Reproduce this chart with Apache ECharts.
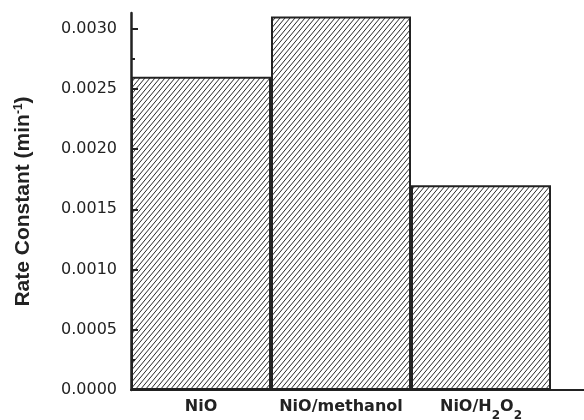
<!DOCTYPE html>
<html>
<head>
<meta charset="utf-8">
<script src="https://cdn.jsdelivr.net/npm/echarts@6/dist/echarts.min.js"></script>
<style>html,body{margin:0;padding:0;background:#fff}#c{width:584px;height:420px}</style>
</head>
<body>
<div id="c"></div>
<script>
var categories = ['{m|NiO}', '{m|NiO/methanol}', '{m|NiO/H}{sub|2}{m|O}{sub|2}'];
var rateConstants = [0.0026, 0.0031, 0.0017];
var majorTicks = [0, 0.0005, 0.0010, 0.0015, 0.0020, 0.0025, 0.0030];
var minorTicks = [0.00025, 0.00075, 0.00125, 0.00175, 0.00225, 0.00275];
var yMax = 0.00313;

function hatch() {
  var w = 5, h = 6;
  var cv = document.createElement('canvas');
  cv.width = w; cv.height = h;
  var ctx = cv.getContext('2d');
  ctx.fillStyle = '#fff';
  ctx.fillRect(0, 0, w, h);
  ctx.strokeStyle = '#2a2a2a';
  ctx.lineWidth = 1;
  [[0, 0], [-w, 0], [w, 0]].forEach(function (o) {
    ctx.beginPath();
    ctx.moveTo(o[0], h);
    ctx.lineTo(o[0] + w, 0);
    ctx.stroke();
  });
  return cv;
}

var chart = echarts.init(document.getElementById('c'), null, {renderer: 'canvas'});
var ink = '#222';
chart.setOption({
  animation: false,
  grid: {left: 131, top: 13, bottom: 30, width: 560, outerBoundsMode: 'none', containLabel: false},
  xAxis: {
    type: 'category',
    data: categories.concat(['']),
    z: 5,
    axisLine: {lineStyle: {color: ink, width: 2}},
    axisTick: {alignWithLabel: true, inside: true, length: 6, interval: 0, lineStyle: {color: ink, width: 2}},
    axisLabel: {
      interval: 0,
      margin: 9,
      color: ink,
      fontFamily: 'DejaVu Sans',
      fontWeight: 'bold',
      fontSize: 16,
      rich: {
        m: {fontFamily: 'DejaVu Sans', fontWeight: 'bold', fontSize: 16, lineHeight: 16, verticalAlign: 'top', color: ink},
        sub: {fontFamily: 'DejaVu Sans', fontWeight: 'bold', fontSize: 12, lineHeight: 23, verticalAlign: 'bottom', color: ink}
      }
    }
  },
  yAxis: [{
    type: 'value',
    min: 0,
    max: yMax,
    interval: 0.0005,
    z: 5,
    name: 'Rate Constant (min{sup|-1})',
    nameLocation: 'middle',
    nameRotate: 90,
    nameGap: 97,
    nameTextStyle: {
      color: ink, fontFamily: 'Liberation Sans', fontWeight: 'bold', fontSize: 21,
      rich: {sup: {fontFamily: 'Liberation Sans', fontWeight: 'bold', fontSize: 12, verticalAlign: 'top', padding: [0, 0, 8, 0], color: ink}}
    },
    splitLine: {show: false},
    axisLine: {show: true, lineStyle: {color: ink, width: 2.5}},
    axisTick: {show: true, inside: true, length: 7, customValues: majorTicks, lineStyle: {color: ink, width: 2}},
    axisLabel: {
      margin: 14,
      color: ink,
      fontFamily: 'DejaVu Sans',
      fontSize: 16,
      customValues: majorTicks,
      formatter: function (v) { return v.toFixed(4); }
    }
  }, {
    type: 'value',
    min: 0,
    max: yMax,
    position: 'left',
    z: 5,
    splitLine: {show: false},
    axisLine: {show: false},
    axisLabel: {show: false},
    axisTick: {show: true, inside: true, length: 4, customValues: minorTicks, lineStyle: {color: ink, width: 2}}
  }],
  series: [{
    type: 'bar',
    data: rateConstants,
    barCategoryGap: 0,
    barGap: 0,
    z: 2,
    itemStyle: {
      color: {image: hatch(), repeat: 'repeat'},
      borderColor: ink,
      borderWidth: 2
    }
  }]
});
</script>
</body>
</html>
